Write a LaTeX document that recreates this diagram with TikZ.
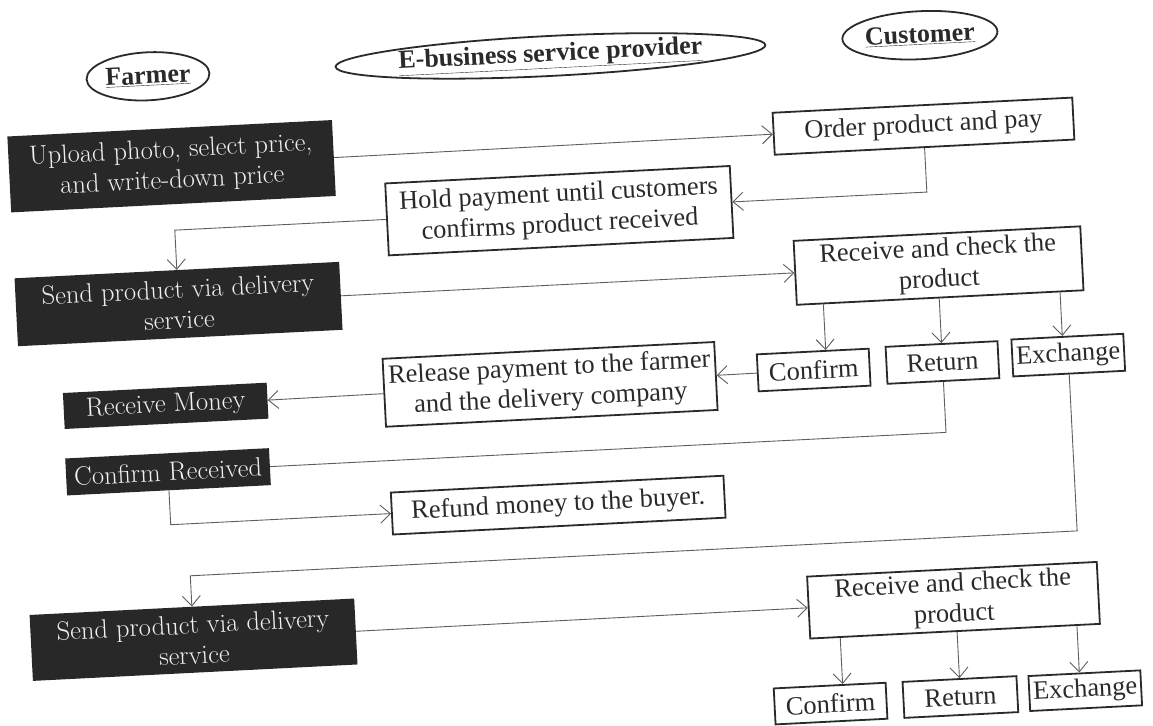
\documentclass[tikz,border=0pt]{standalone}
\usepackage{fontspec}
\setmainfont{Liberation Serif}
\newfontfamily\farmfont{Latin Modern Roman}
\usetikzlibrary{arrows.meta,shapes.geometric}
\definecolor{ink}{HTML}{2A2A2A}
\definecolor{wire}{HTML}{5E5E5E}
\definecolor{slate}{HTML}{282828}
\begin{document}
\begin{tikzpicture}[x=1pt,y=-1pt,
  role/.style={ellipse,draw=ink,line width=1.8pt,inner sep=0pt,text=ink,
    font=\fontsize{26}{30}\selectfont\bfseries},
  farm/.style={rectangle,fill=slate,draw=none,inner sep=0pt,align=center,
    text=white!94!black,font=\farmfont\fontsize{26.5}{30.5}\selectfont},
  task/.style={rectangle,draw=ink,line width=1.8pt,fill=white,inner sep=0pt,
    align=center,text=ink,font=\fontsize{26.4}{30.5}\selectfont},
  pick/.style={task,minimum height=37pt},
  link/.style={draw=wire,line width=0.9pt},
  flow/.style={link,-{Straight Barb[length=10pt,width=18pt,line width=0.9pt]}}
]
\useasboundingbox[fill=white] (0,0) rectangle (1153,725);
\begin{scope}[transform canvas={rotate around={2.9:(576.5,362.5)}}]

% column headings
\node[role,minimum width=123pt,minimum height=48pt] (farmer) at (163,55) {\underline{Farmer}};
\node[role,minimum width=345pt,minimum height=40pt] (provider) at (566,55) {\underline{E-business service provider}};
\node[role,minimum width=146pt,minimum height=48pt] (customer) at (936,53) {\underline{Customer}};

% farmer steps
\node[farm,minimum width=325pt,minimum height=76pt] (upload) at (182,146) {Upload photo, select price,\\and write-down price};
\node[farm,minimum width=325pt,minimum height=68pt] (send1) at (182,284) {Send product via delivery\\service};
\node[farm,minimum width=204pt,minimum height=36pt] (money) at (164,385) {Receive Money};
\node[farm,minimum width=204pt,minimum height=37pt] (confrec) at (163,451) {Confirm Received};
\node[farm,minimum width=325pt,minimum height=66pt] (send2) at (180,620) {Send product via delivery\\service};

% provider steps
\node[task,minimum width=345pt,minimum height=72pt] (hold) at (567,210) {Hold payment until customers\\confirms product received};
\node[task,minimum width=332pt,minimum height=68pt] (release) at (549,383) {Release payment to the farmer\\and the delivery company};
\node[task,minimum width=333pt,minimum height=42pt] (refund) at (551,504) {Refund money to the buyer.};

% customer steps
\node[task,minimum width=300pt,minimum height=42pt] (order) at (935,144) {Order product and pay};
\node[task,minimum width=287pt,minimum height=64pt] (recv1) at (943,284) {Receive and check the\\product};
\node[pick,minimum width=112pt] (conf1) at (813,382) {Confirm};
\node[pick,minimum width=112pt] (ret1) at (942,381) {Return};
\node[pick,minimum width=112pt] (exch1) at (1068,380) {Exchange};
\node[task,minimum width=290pt,minimum height=62pt] (recv2) at (941,619) {Receive and check the\\product};
\node[pick,minimum width=112pt,minimum height=36pt] (conf2) at (813,716) {Confirm};
\node[pick,minimum width=114pt,minimum height=36pt] (ret2) at (943,716) {Return};
\node[pick,minimum width=112pt,minimum height=35pt] (exch2) at (1068,716) {Exchange};

% bend level of the exchange loop
\coordinate (swing) at (0,556);

% connectors
\draw[flow] (upload) -- (order);
\draw[flow] (order.south) |- (hold.east);
\draw[flow] (hold.west) -| (send1.north);
\draw[flow] (send1) -- (recv1);
\draw[flow] ([xshift=13pt]conf1.north |- recv1.south) -- ([xshift=13pt]conf1.north);
\draw[flow] (ret1.north |- recv1.south) -- (ret1.north);
\draw[flow] ([xshift=-5pt]exch1.north |- recv1.south) -- ([xshift=-5pt]exch1.north);
\draw[flow] (conf1) -- (release);
\draw[flow] (release) -- (money);
\draw[link] (ret1.south) |- (confrec.east);
\draw[flow] (confrec.south) |- (refund.west);
\draw[flow] (exch1.south) -- (exch1.south |- swing) -| (send2.north);
\draw[flow] (send2) -- (recv2);
\draw[flow] ([xshift=13pt]conf2.north |- recv2.south) -- ([xshift=13pt]conf2.north);
\draw[flow] (ret2.north |- recv2.south) -- (ret2.north);
\draw[flow] ([xshift=-5pt]exch2.north |- recv2.south) -- ([xshift=-5pt]exch2.north);
\end{scope}
\end{tikzpicture}
\end{document}
